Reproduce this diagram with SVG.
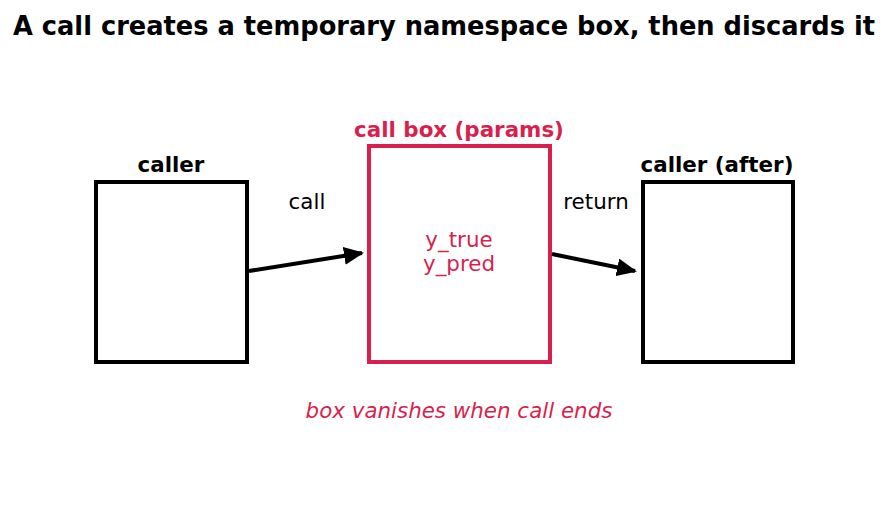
<svg xmlns="http://www.w3.org/2000/svg" width="888" height="512" viewBox="0 0 888 512">
<style>
text{font-family:"DejaVu Sans",sans-serif;text-anchor:middle}
.t{font-size:25.7px;font-weight:bold;fill:#000}
.b{font-size:21.4px;font-weight:bold}
.r{font-size:21.4px}
.k{fill:#000}
.c{fill:#d81f4e}
.box{fill:none;stroke-width:4}
.conn{stroke:#000;stroke-width:4;fill:none}
</style>
<defs>
<marker id="ah" viewBox="0 0 10 10" refX="9" refY="5" markerWidth="5" markerHeight="4.5" orient="auto" markerUnits="strokeWidth" preserveAspectRatio="none">
<path d="M0,0 L10,5 L0,10 Z" fill="#000"/>
</marker>
</defs>
<rect width="888" height="512" fill="#fff"/>
<text class="t" x="444" y="35">A call creates a temporary namespace box, then discards it</text>
<g id="caller">
<rect class="box" x="96" y="182" width="151" height="180" stroke="#000"/>
<text class="b k" x="171" y="172">caller</text>
</g>
<g id="callbox">
<rect class="box" x="369" y="146" width="181" height="216" stroke="#d81f4e"/>
<text class="b c" x="459" y="137">call box (params)</text>
<text class="r c" x="459" y="247">y_true</text>
<text class="r c" x="459" y="271">y_pred</text>
</g>
<g id="caller_after">
<rect class="box" x="643" y="182" width="150" height="180" stroke="#000"/>
<text class="b k" x="717" y="172">caller (after)</text>
</g>
<g id="connectors">
<line class="conn" x1="249" y1="271" x2="362" y2="253" marker-end="url(#ah)"/>
<text class="r k" x="307" y="209">call</text>
<line class="conn" x1="552" y1="254" x2="635" y2="271" marker-end="url(#ah)"/>
<text class="r k" x="596" y="209">return</text>
</g>
<text class="r c" x="459" y="418" font-style="italic">box vanishes when call ends</text>
</svg>
